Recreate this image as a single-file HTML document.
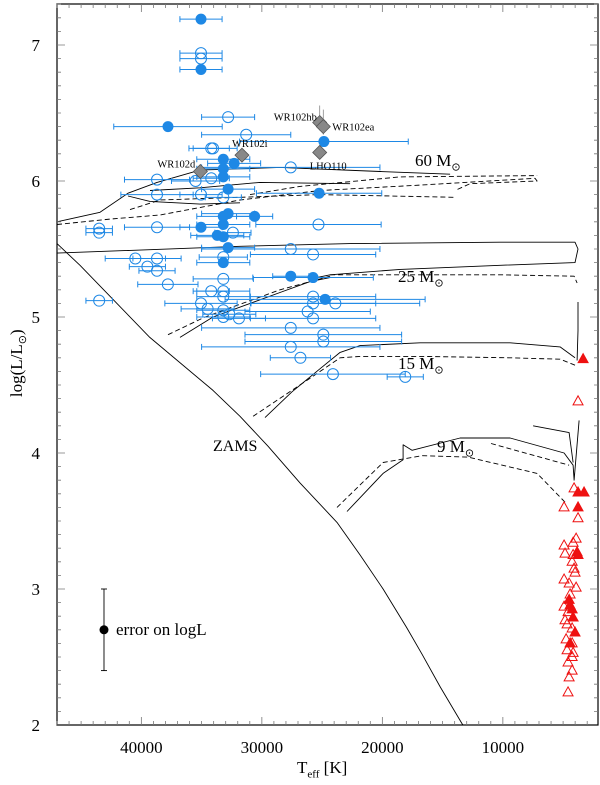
<!DOCTYPE html>
<html><head><meta charset="utf-8">
<style>
html,body{margin:0;padding:0;background:#fff;}
svg{display:block;font-family:"Liberation Serif",serif;}
svg text{font-family:"Liberation Serif",serif;}
</style></head>
<body>
<svg id="chart" width="600" height="785" viewBox="0 0 600 785">
<g id="tracks"></g>
<g id="errs"></g>
<g id="pts"></g>
<g id="axes"></g>
<g id="labels"></g>
</svg>
<script>
// ---- data (Teff [K], logL) ----
const xTicks=[40000,30000,20000,10000];
const yTicks=[2,3,4,5,6,7];
const zams=[[47000,5.54],[45090,5.38],[39300,4.85],[34050,4.46],[31810,4.27],[29490,4.05],[26830,3.78],[23760,3.49],[21850,3.25],[19940,3.00],[18000,2.72],[16700,2.52],[15200,2.28],[13390,2.01],[13300,2.0]];
const t60s1=[[47000,5.70],[43430,5.77],[41110,5.91],[38700,5.99],[35130,6.08],[28490,6.10],[20190,6.07],[14380,6.05]];
const t60s2=[[41110,5.89],[39280,5.85],[35130,5.83],[31810,5.84]];
const t60s3=[[39280,5.93],[35130,5.95],[30150,5.99],[22680,5.98]];
const t60d1=[[47000,5.68],[42600,5.72],[38450,5.75],[31810,5.86],[25170,5.93],[16870,5.97],[7330,6.02],[7160,6.0],[12720,5.98],[13970,5.93]];
const t60d2=[[30980,5.90],[26830,5.96],[18530,6.03],[7160,6.04]];
const t60d3=[[40940,5.79],[38450,5.86],[31810,5.88],[25170,5.90],[13970,5.88]];
const t25s1=[[47000,5.47],[40940,5.49],[31810,5.52],[22680,5.54],[10230,5.55],[4010,5.55],[3760,5.50],[4010,5.40],[10230,5.38],[18530,5.35],[24340,5.31],[26000,5.28]];
const t25s2=[[36790,4.85],[34050,5.0],[28490,5.18],[26000,5.26],[24340,5.29]];
const t25d1=[[37790,4.87],[34720,5.0],[28490,5.20],[24340,5.30]];
const t25d2=[[24340,5.31],[10230,5.31],[4090,5.30],[3840,5.25]];
const t15s=[[29740,4.26],[27500,4.45],[25170,4.62],[23510,4.74],[21850,4.79],[16870,4.81],[9400,4.81],[5250,4.78],[4010,4.70]];
const t15d=[[30730,4.27],[26000,4.55],[23510,4.70],[21850,4.71],[16870,4.71],[9400,4.70],[5250,4.69],[3840,4.64]];
const tVert=[[3760,5.11],[3760,4.90],[3840,4.68]];
const t9s=[[22930,3.57],[19940,3.85],[18280,3.95],[18280,4.06],[17540,4.02],[13550,4.11],[9400,4.11],[4920,4.00],[4170,3.91],[4090,3.80],[3670,4.24]];
const t9s2=[[7490,4.20],[4500,4.15],[4170,3.93]];
const t9d=[[23760,3.60],[19940,3.93],[16700,3.98],[12890,3.97],[7160,3.85],[4750,3.63]];
const t9d2=[[10980,4.07],[4500,3.91]];
const blueFilledT=[35050,35050,37790,33200,32300,33200,33200,32800,32800,33200,30600,35050,33200,33700,33200,32800,33200,24850,25250,27600,25750,24750];
const blueFilledL=[7.19,6.82,6.40,6.16,6.13,6.09,6.03,5.94,5.76,5.74,5.74,5.66,5.68,5.60,5.59,5.51,5.40,6.29,5.91,5.30,5.29,5.13];
const blueFilledE=[1750,1750,4500,2200,2200,2200,2200,2200,2200,2200,1500,1750,2200,2200,2200,2200,2200,7000,5200,1500,5000,8300];
const blueOpenT=[35050,35050,32800,31300,34200,34050,38700,35500,34200,38700,35050,33200,38700,43500,43500,32400,40500,38700,39500,38700,37800,43500,33200,33200,34200,33200,33200,35050,34500,33200,33200,32700,31900,27600,25300,25750,27600,25750,25750,26200,25750,23900,24900,24900,27600,26800,24100,18100,27600];
const blueOpenL=[6.94,6.90,6.47,6.34,6.24,6.24,6.01,6.00,6.02,5.90,5.90,5.88,5.66,5.65,5.62,5.62,5.43,5.43,5.37,5.34,5.24,5.12,5.28,5.44,5.19,5.19,5.15,5.10,5.06,5.05,5.00,5.02,4.99,6.10,5.68,5.46,5.50,5.15,5.10,5.04,4.99,5.10,4.87,4.82,4.78,4.70,4.58,4.56,4.92];
const blueOpenE=[1750,1750,2200,3700,1500,2000,2700,2000,1500,3000,1750,1500,2700,1100,1100,1500,2500,2000,1500,1500,2500,1100,2500,2000,1500,2200,2200,3000,2200,2200,2200,2200,2200,7400,5200,5200,7400,5200,5200,5200,5200,7000,6500,6500,7400,2500,6000,1500,7400];
const wrNames=["WR102d","WR102i","WR102hb","WR102ea","LHO110"];
const wrT=[35100,31650,25200,24900,25200];
const wrL=[6.07,6.19,6.43,6.40,6.21];
const redOpenT=[3760,4090,4920,3760,3920,4920,4170,4840,4170,4250,4090,4010,4920,4500,3920,4920,4840,4670,4250,4750,4250,4670,4170,4590,4250,4500,4590,4250,4420,4590];
const redOpenL=[4.38,3.74,3.60,3.52,3.37,3.32,3.34,3.26,3.25,3.20,3.15,3.12,3.07,3.04,3.01,2.87,2.77,2.74,2.71,2.63,2.60,2.55,2.53,2.46,2.40,2.35,2.24,2.50,2.96,2.83];
const redFilledT=[3340,3760,3260,3760,3840,3760,4500,4420,4250,4170,4010,4420];
const redFilledL=[4.69,3.71,3.71,3.60,3.27,3.25,2.92,2.88,2.85,2.79,2.68,2.60];
const errLegend=[43100,2.70,0.30];

// ---- scales ----
const X=t=>57+(47000-t)*0.01205;
const Y=l=>725-(l-2)*136;
const NS="http://www.w3.org/2000/svg";
function mk(tag,attrs,parent){const e=document.createElementNS(NS,tag);for(const k in attrs)e.setAttribute(k,attrs[k]);parent.appendChild(e);return e;}
const gT=document.getElementById('tracks'),gE=document.getElementById('errs'),gP=document.getElementById('pts'),gA=document.getElementById('axes'),gL=document.getElementById('labels');
const BLUE="#1e88e5",RED="#ee1111",FONT="Liberation Serif, serif";

function line(arr,dash,name){
  const p=mk('polyline',{points:arr.map(d=>X(d[0]).toFixed(1)+","+Y(d[1]).toFixed(1)).join(" "),fill:"none",stroke:"#000","stroke-width":"0.9","stroke-linejoin":"round"},gT);
  if(dash)p.setAttribute('stroke-dasharray','5,3');
  
  
}
line(zams,false,'zams-line');
line(t60s1,false,'track-60-solid');line(t60s2,false,'track-60-solid');line(t60s3,false,'track-60-solid');
line(t60d1,true,'track-60-dashed');line(t60d2,true,'track-60-dashed');line(t60d3,true,'track-60-dashed');
line(t25s1,false,'track-25-solid');line(t25s2,false,'track-25-solid');
line(t25d1,true,'track-25-dashed');line(t25d2,true,'track-25-dashed');
line(t15s,false,'track-15-solid');line(t15d,true,'track-15-dashed');line(tVert,false,'track-red-branch');
line(t9s,false,'track-9-solid');line(t9s2,false,'track-9-solid');line(t9d,true,'track-9-dashed');line(t9d2,true,'track-9-dashed');

function hErr(t,l,e){
  const y=Y(l),x1=X(t+e),x2=X(t-e);
  const g=mk('g',{stroke:BLUE,"stroke-width":"1"},gE);
  
  
  mk('line',{x1:x1,y1:y,x2:x2,y2:y},g);
  mk('line',{x1:x1,y1:y-3,x2:x1,y2:y+3},g);
  mk('line',{x1:x2,y1:y-3,x2:x2,y2:y+3},g);
}
blueOpenT.forEach((t,i)=>hErr(t,blueOpenL[i],blueOpenE[i]));
blueFilledT.forEach((t,i)=>hErr(t,blueFilledL[i],blueFilledE[i]));
blueOpenT.forEach((t,i)=>{
  const c=mk('circle',{cx:X(t),cy:Y(blueOpenL[i]),r:5.5,fill:"none",stroke:BLUE,"stroke-width":"1"},gP);
  
  
});
blueFilledT.forEach((t,i)=>{
  const c=mk('circle',{cx:X(t),cy:Y(blueFilledL[i]),r:5.5,fill:BLUE},gP);
  
  
});
// WR gray diamonds
const wrDx=[-43,-10,-46,9,-10],wrDy=[-4,-8,-2,4,17];
wrT.forEach((t,i)=>{
  const x=X(t),y=Y(wrL[i]);
  if(i==2||i==3){const v=mk('line',{x1:x,y1:y-17,x2:x,y2:y+8,stroke:"#888","stroke-width":"0.8"},gP);
    
    }
  const d=mk('polygon',{points:`${x},${y-7} ${x+7},${y} ${x},${y+7} ${x-7},${y}`,fill:"#888",stroke:"#555","stroke-width":"0.8"},gP);
  
  
  const tx=mk('text',{x:x+wrDx[i],y:y+wrDy[i],"font-size":"10.5","font-family":FONT},gL);
  tx.textContent=wrNames[i];
  
  
});
function tri(t,l,filled){
  const x=X(t),y=Y(l);
  const p=mk('polygon',{points:`${x},${y-5.5} ${x+5},${y+3.5} ${x-5},${y+3.5}`,fill:filled?RED:"none",stroke:RED,"stroke-width":"1"},gP);
  
  
}
redOpenT.forEach((t,i)=>tri(t,redOpenL[i],false));
redFilledT.forEach((t,i)=>tri(t,redFilledL[i],true));
// error legend
{
  const x=X(errLegend[0]),y=Y(errLegend[1]),y1=Y(errLegend[1]+errLegend[2]),y2=Y(errLegend[1]-errLegend[2]);
  const g=mk('g',{stroke:"#000","stroke-width":"0.9"},gP);
  
  
  mk('line',{x1:x,y1:y1,x2:x,y2:y2},g);mk('line',{x1:x-3,y1:y1,x2:x+3,y2:y1},g);mk('line',{x1:x-3,y1:y2,x2:x+3,y2:y2},g);
  const c=mk('circle',{cx:x,cy:y,r:4.5,fill:"#000"},gP);
  
  
}
// axes frame & ticks
const fr=mk('rect',{x:57,y:4,width:541,height:721,fill:"none",stroke:"#000","stroke-width":"1.2"},gA);


let tk="";
for(let t=3000;t<=47000;t+=1000){const x=X(t),L=(t%10000==0)?8:4;tk+=`M${x},725v${-L}M${x},4v${L}`;}
for(let l=2.1;l<7.3;l+=0.1){const v=Math.round(l*10)/10,y=Y(v),L=(Math.abs(v-Math.round(v))<0.01)?8:4;tk+=`M57,${y}h${L}M598,${y}h${-L}`;}
const tp=mk('path',{d:tk,stroke:"#777","stroke-width":"0.8",fill:"none"},gA);


xTicks.forEach(t=>{const e=mk('text',{x:X(t),y:753,"font-size":"17","text-anchor":"middle","font-family":FONT},gA);e.textContent=t;
  
  });
yTicks.forEach(l=>{const e=mk('text',{x:40,y:Y(l)+6,"font-size":"17","text-anchor":"end","font-family":FONT},gA);e.textContent=l;
  
  });
</script>
<div style="position:absolute;left:0;top:0;width:600px;height:785px;pointer-events:none;font-family:'Liberation Serif',serif;color:#000;">
  <div style="position:absolute;left:297px;top:758px;font-size:17px;white-space:nowrap;">T<sub style="font-size:11px;">eff</sub> [K]</div>
  <div style="position:absolute;left:-32px;top:352px;font-size:17px;white-space:nowrap;transform:rotate(-90deg);width:100px;text-align:center;">log(L/L<sub style="font-size:11px;">⊙</sub>)</div>
  <div style="position:absolute;left:415px;top:151px;font-size:17px;white-space:nowrap;">60 M<sub style="font-size:11px;">⊙</sub></div>
  <div style="position:absolute;left:398px;top:267px;font-size:17px;white-space:nowrap;">25 M<sub style="font-size:11px;">⊙</sub></div>
  <div style="position:absolute;left:398px;top:354px;font-size:17px;white-space:nowrap;">15 M<sub style="font-size:11px;">⊙</sub></div>
  <div style="position:absolute;left:437px;top:437px;font-size:17px;white-space:nowrap;">9 M<sub style="font-size:11px;">⊙</sub></div>
  <div style="position:absolute;left:213px;top:438px;font-size:16px;">ZAMS</div>
  <div style="position:absolute;left:116px;top:620px;font-size:17px;white-space:nowrap;">error on logL</div>
</div>
</body></html>
